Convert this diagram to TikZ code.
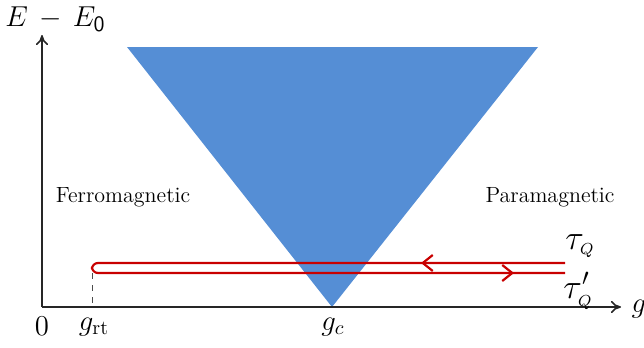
\documentclass[tikz,border=0pt]{standalone}
\usetikzlibrary{arrows.meta}

\definecolor{coneblue}{RGB}{85,142,213}
\definecolor{loopred}{RGB}{200,0,0}

\begin{document}
\begin{tikzpicture}[x=0.5pt, y=-0.5pt,
  % Axis styles
  axis/.style={-{To[length=5pt,width=6pt]}, line width=0.8pt, black!85},
  lbl/.style={font=\fontsize{14}{16}\selectfont, inner sep=1pt},
  big/.style={font=\fontsize{17}{19}\selectfont, inner sep=1pt},
  phase/.style={font=\fontsize{11}{13}\selectfont, inner sep=1pt},
  % Quench loop
  quench/.style={draw=loopred, line width=1.1pt, rounded corners=3pt},
  midarr/.style={loopred, line width=1.1pt, -{Straight Barb[length=5pt,width=8pt]}},
]
\useasboundingbox (0,0) rectangle (644,348);

% === Gap cone ===
\coordinate (TL) at (127,47);
\coordinate (TR) at (538,47);
\coordinate (gcpt) at (332,307);
\fill[coneblue] (TL) -- (TR) -- (gcpt) -- cycle;

% === Axes ===
\coordinate (O) at (42,307);
\coordinate (xend) at (621,307);
\coordinate (yend) at (42,35);
\draw[axis] (O) -- (xend);
\draw[axis] (O) -- (yend);

% === Quench path ===
\coordinate (qtop) at (565,263);
\coordinate (qbot) at (565,273);
\coordinate (turnA) at (92,263);
\coordinate (turnB) at (92,273);
\coordinate (grt) at (92,307);
\draw[quench] (qtop) -- (turnA) -- (turnB) -- (qbot);
\draw[dashed, black!70, thin] (turnB) -- (grt);

% arrows along the loop
\coordinate (ua0) at (440,263);
\coordinate (ua1) at (421,263);
\coordinate (la0) at (495,273);
\coordinate (la1) at (514,273);
\draw[midarr] (ua0) -- (ua1);
\draw[midarr] (la0) -- (la1);

% === Labels ===
\node[lbl, anchor=west, font=\fontsize{15}{17}\selectfont] (elab) at (3,19) {$E\,-\,E_{\mathsf{0}}$};
\node[lbl] (glab) at (639,309) {$g$};
\node[lbl] (zero) at (42,326) {$0$};
\node[lbl] (grtlab) at (94,327) {$g_{\mathrm{rt}}$};
\node[lbl] (gclab) at (333,327) {$g_c$};
\node[big] (tq) at (580,246) {$\tau_{\scriptscriptstyle Q}$};
\node[big] (tqp) at (578,291) {$\tau'_{\scriptscriptstyle Q}$};

\node[phase] (ferro) at (123,197) {Ferromagnetic};
\node[phase] (para) at (550,197) {Paramagnetic};

\end{tikzpicture}
\end{document}
